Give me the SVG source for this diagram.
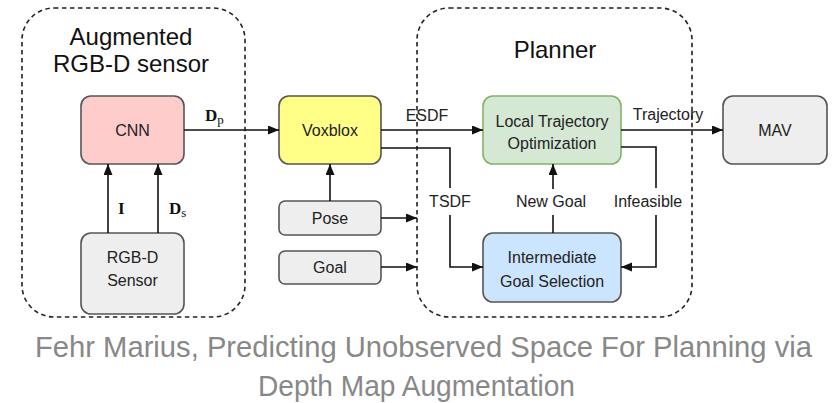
<svg xmlns="http://www.w3.org/2000/svg" width="832" height="403" viewBox="0 0 832 403">
<style>
.grp{fill:none;stroke:#222;stroke-width:1.6;stroke-dasharray:4.5 3.5}
.node{stroke:#555;stroke-width:1.6}
.t{font-family:"Liberation Sans",Arial,sans-serif;font-size:16px;fill:#222;text-anchor:middle}
.big{font-family:"Liberation Sans",Arial,sans-serif;font-size:24px;fill:#111;text-anchor:middle}
.m{font-family:"Liberation Serif","Times New Roman",serif;font-size:17px;font-weight:bold;fill:#111}
.sub{font-family:"Liberation Serif","Times New Roman",serif;font-size:13px;font-weight:normal;fill:#111}
.c{fill:none;stroke:#111;stroke-width:1.6}
.cap{font-family:"Liberation Sans",Arial,sans-serif;font-size:29px;fill:#888}
</style>
<defs>
<marker id="ah" markerUnits="userSpaceOnUse" markerWidth="12" markerHeight="10" refX="11" refY="4.5" orient="auto">
<path d="M0,0 L11,4.5 L0,9 z" fill="#111"/>
</marker>
</defs>
<g id="group-augmented">
<rect class="grp" x="22" y="8" width="223" height="309" rx="32"/>
<text class="big" x="131" y="45">Augmented</text>
<text class="big" x="131" y="72">RGB-D sensor</text>
</g>
<g id="group-planner">
<rect class="grp" x="417" y="8" width="275" height="309" rx="32"/>
<text class="big" x="555" y="58">Planner</text>
</g>
<g id="cnn">
<rect class="node" x="81" y="96" width="103" height="68" rx="10" fill="#FFCCCC"/>
<text class="t" x="132.5" y="136">CNN</text>
</g>
<g id="rgbd">
<rect class="node" x="81" y="233" width="103" height="81" rx="10" fill="#EEEEEE"/>
<text class="t" x="132.5" y="263">RGB-D</text>
<text class="t" x="132.5" y="286">Sensor</text>
</g>
<g id="voxblox">
<rect class="node" x="279" y="96" width="102" height="68" rx="10" fill="#FFFF88"/>
<text class="t" x="330" y="136">Voxblox</text>
</g>
<g id="pose">
<rect class="node" x="279" y="201" width="102" height="34" rx="6" fill="#EEEEEE"/>
<text class="t" x="330" y="224">Pose</text>
</g>
<g id="goal">
<rect class="node" x="279" y="251" width="102" height="33" rx="6" fill="#EEEEEE"/>
<text class="t" x="330" y="273">Goal</text>
</g>
<g id="local-traj">
<rect x="483" y="96" width="138" height="68" rx="10" fill="#D5E8D4" stroke="#82B366" stroke-width="1.6"/>
<text class="t" x="552" y="127">Local Trajectory</text>
<text class="t" x="552" y="149">Optimization</text>
</g>
<g id="intermediate">
<rect class="node" x="483" y="233" width="138" height="69" rx="10" fill="#CCE5FF"/>
<text class="t" x="552" y="263">Intermediate</text>
<text class="t" x="552" y="287">Goal Selection</text>
</g>
<g id="mav">
<rect class="node" x="723" y="96" width="104" height="68" rx="10" fill="#EEEEEE"/>
<text class="t" x="775" y="136">MAV</text>
</g>
<g id="connectors">
<path class="c" d="M184,130 H279" marker-end="url(#ah)"/>
<path class="c" d="M108,233 V164" marker-end="url(#ah)"/>
<path class="c" d="M158,233 V164" marker-end="url(#ah)"/>
<path class="c" d="M330,201 V164" marker-end="url(#ah)"/>
<path class="c" d="M381,218 H417" marker-end="url(#ah)"/>
<path class="c" d="M381,267 H417" marker-end="url(#ah)"/>
<path class="c" d="M381,130 H483" marker-end="url(#ah)"/>
<path class="c" d="M381,148 H450 V188"/>
<path class="c" d="M450,215 V267 H483" marker-end="url(#ah)"/>
<path class="c" d="M621,130 H723" marker-end="url(#ah)"/>
<path class="c" d="M553,233 V215"/>
<path class="c" d="M553,189 V164" marker-end="url(#ah)"/>
<path class="c" d="M621,147 H656 V188"/>
<path class="c" d="M656,215 V267 H621" marker-end="url(#ah)"/>
<text class="m" x="205" y="121">D<tspan class="sub" dy="3">p</tspan></text>
<text class="m" x="118" y="214">I</text>
<text class="m" x="169" y="214">D<tspan class="sub" dy="3">s</tspan></text>
<text class="t" x="427" y="121">ESDF</text>
<text class="t" x="450" y="207">TSDF</text>
<text class="t" x="668" y="120">Trajectory</text>
<text class="t" x="551" y="207">New Goal</text>
<text class="t" x="648" y="207">Infeasible</text>
</g>
<text class="cap" x="35" y="357" textLength="777" lengthAdjust="spacingAndGlyphs">Fehr Marius, Predicting Unobserved Space For Planning via</text>
<text class="cap" x="258" y="396" textLength="317" lengthAdjust="spacingAndGlyphs">Depth Map Augmentation</text>
</svg>
